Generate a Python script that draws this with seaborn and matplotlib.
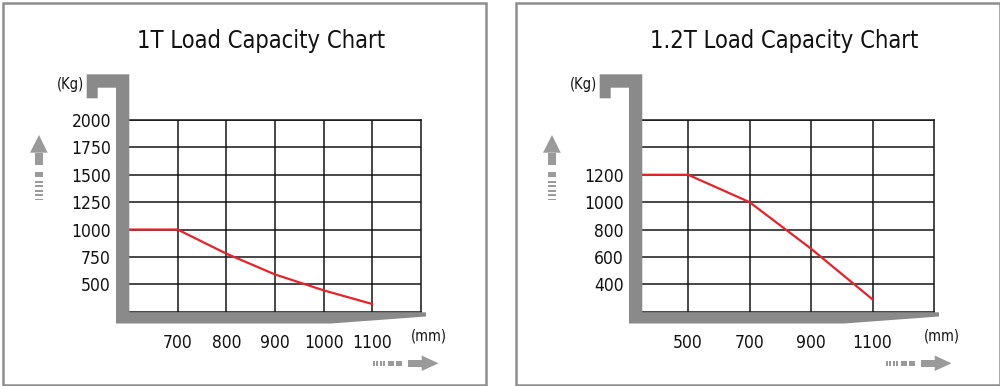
import numpy as np
import matplotlib
matplotlib.use("Agg")
import matplotlib.pyplot as plt
import seaborn as sns
from matplotlib.patches import Polygon, Rectangle

# ---------------- data ----------------
titles = ["1T Load Capacity Chart", "1.2T Load Capacity Chart"]

dist_1t = [600, 700, 800, 900, 1000, 1100]          # load centre (mm)
load_1t = [1000, 1000, 780, 590, 445, 320]           # capacity (kg)
xticks_1t = [700, 800, 900, 1000, 1100]
yticks_1t = [500, 750, 1000, 1250, 1500, 1750, 2000]
ylabels_1t = ["500", "750", "1000", "1250", "1500", "1750", "2000"]

dist_12t = [350, 500, 700, 900, 1100]
load_12t = [1200, 1200, 1000, 660, 290]
xticks_12t = [500, 700, 900, 1100]
yticks_12t = [400, 600, 800, 1000, 1200, 1400, 1600]
ylabels_12t = ["400", "600", "800", "1000", "1200", "", ""]

unit_y = "(Kg)"
unit_x = "(mm)"

# ---------------- style ----------------
sns.set_style("white")
plt.rcParams["font.family"] = ["DejaVu Sans"]
plt.rcParams["font.stretch"] = "condensed"

W, H = 1000, 386
fig = plt.figure(figsize=(W / 100, H / 100), dpi=100)
fig.patch.set_facecolor("white")

RED = "#e8222a"
GRAY = "#8a8a8a"
ARROW = "#9a9a9a"
BORDER = "#8e8e8e"
GRID = "#151515"
TXT = "#111111"


def fx(x):
    return x / W


def fy(y):
    return 1 - y / H


def poly(pts, color):
    p = Polygon([(fx(x), fy(y)) for x, y in pts], closed=True,
                transform=fig.transFigure, facecolor=color, edgecolor="none",
                zorder=3)
    fig.add_artist(p)


def panel(off, title, title_cx, xs, ys, xticks, yticks, ylabels, xlim, ylim):
    # panel border
    fig.add_artist(Rectangle((fx(2.5 + off), fy(384.5)), (483 if off == 0 else 484) / W,
                             382 / H, transform=fig.transFigure, fill=False,
                             edgecolor=BORDER, linewidth=1.8, zorder=1))
    # title
    fig.text(fx(title_cx), fy(48), title, ha="center", va="baseline",
             fontsize=17, color=TXT)

    L, R, T, B = 129 + off, 421 + off, 120, 311.7
    ax = fig.add_axes([fx(L), fy(B), (R - L) / W, (B - T) / H])
    sns.lineplot(x=xs, y=ys, ax=ax, color=RED, linewidth=1.6, zorder=5)
    ax.set_xlim(*xlim)
    ax.set_ylim(*ylim)
    ax.set_xticks(xticks)
    ax.set_xticklabels([str(v) for v in xticks])
    ax.set_yticks(yticks)
    ax.set_yticklabels(ylabels)
    ax.grid(True, color=GRID, linewidth=1.1)
    ax.set_axisbelow(True)
    ax.tick_params(axis="both", length=0, labelsize=12.5, colors=TXT)
    ax.tick_params(axis="y", pad=13)
    ax.tick_params(axis="x", pad=16)
    for s in ["top", "right", "bottom"]:
        ax.spines[s].set_visible(True)
        ax.spines[s].set_color(GRID)
        ax.spines[s].set_linewidth(1.1)
    ax.spines["left"].set_visible(False)
    ax.set_xlabel("")
    ax.set_ylabel("")

    # fork-shaped gray frame
    poly([(86.7 + off, 74.3), (129.3 + off, 74.3), (129.3 + off, 312.3),
          (426 + off, 312.3), (426 + off, 316.5), (331 + off, 323.5),
          (116 + off, 323.5), (116 + off, 87.7), (97.7 + off, 87.7),
          (97.7 + off, 98.3), (86.7 + off, 98.3)], GRAY)

    # unit labels
    fig.text(fx(70.5 + off), fy(85), unit_y, ha="center", va="center",
             fontsize=10.5, color=TXT)
    fig.text(fx(428.5 + off), fy(336), unit_x, ha="center", va="center",
             fontsize=10.5, color=TXT)

    # up arrow
    poly([(30 + off, 152.7), (39 + off, 135), (47.7 + off, 152.7)], ARROW)
    poly([(35 + off, 152.5), (43.3 + off, 152.5), (43.3 + off, 165),
          (35 + off, 165)], ARROW)
    poly([(35 + off, 171.7), (43.3 + off, 171.7), (43.3 + off, 177.3),
          (35 + off, 177.3)], ARROW)
    for yy in [181.5, 186, 190.5, 195, 199.5]:
        poly([(35 + off, yy - 1.0), (43.3 + off, yy - 1.0), (43.3 + off, yy + 1.0),
              (35 + off, yy + 1.0)], ARROW)

    # right arrow
    for xx in [373.5, 377, 380.5, 384]:
        poly([(xx - 1.0 + off, 360.7), (xx + 1.0 + off, 360.7), (xx + 1.0 + off, 366.3),
              (xx - 1.0 + off, 366.3)], ARROW)
    for x0, x1 in [(387.5, 393.5), (395.5, 401.5)]:
        poly([(x0 + off, 360.7), (x1 + off, 360.7), (x1 + off, 366.3),
              (x0 + off, 366.3)], ARROW)
    poly([(407.5 + off, 360), (422 + off, 360), (422 + off, 366.7),
          (407.5 + off, 366.7)], ARROW)
    poly([(421.7 + off, 355.5), (438.5 + off, 363.3), (421.7 + off, 371)], ARROW)
    return ax


panel(0, titles[0], 261, dist_1t, load_1t, xticks_1t, yticks_1t, ylabels_1t,
      (600, 1200), (250, 2000))
panel(513, titles[1], 784, dist_12t, load_12t, xticks_12t, yticks_12t, ylabels_12t,
      (350, 1300), (200, 1600))

fig.savefig("out.png", dpi=100, facecolor="white")
